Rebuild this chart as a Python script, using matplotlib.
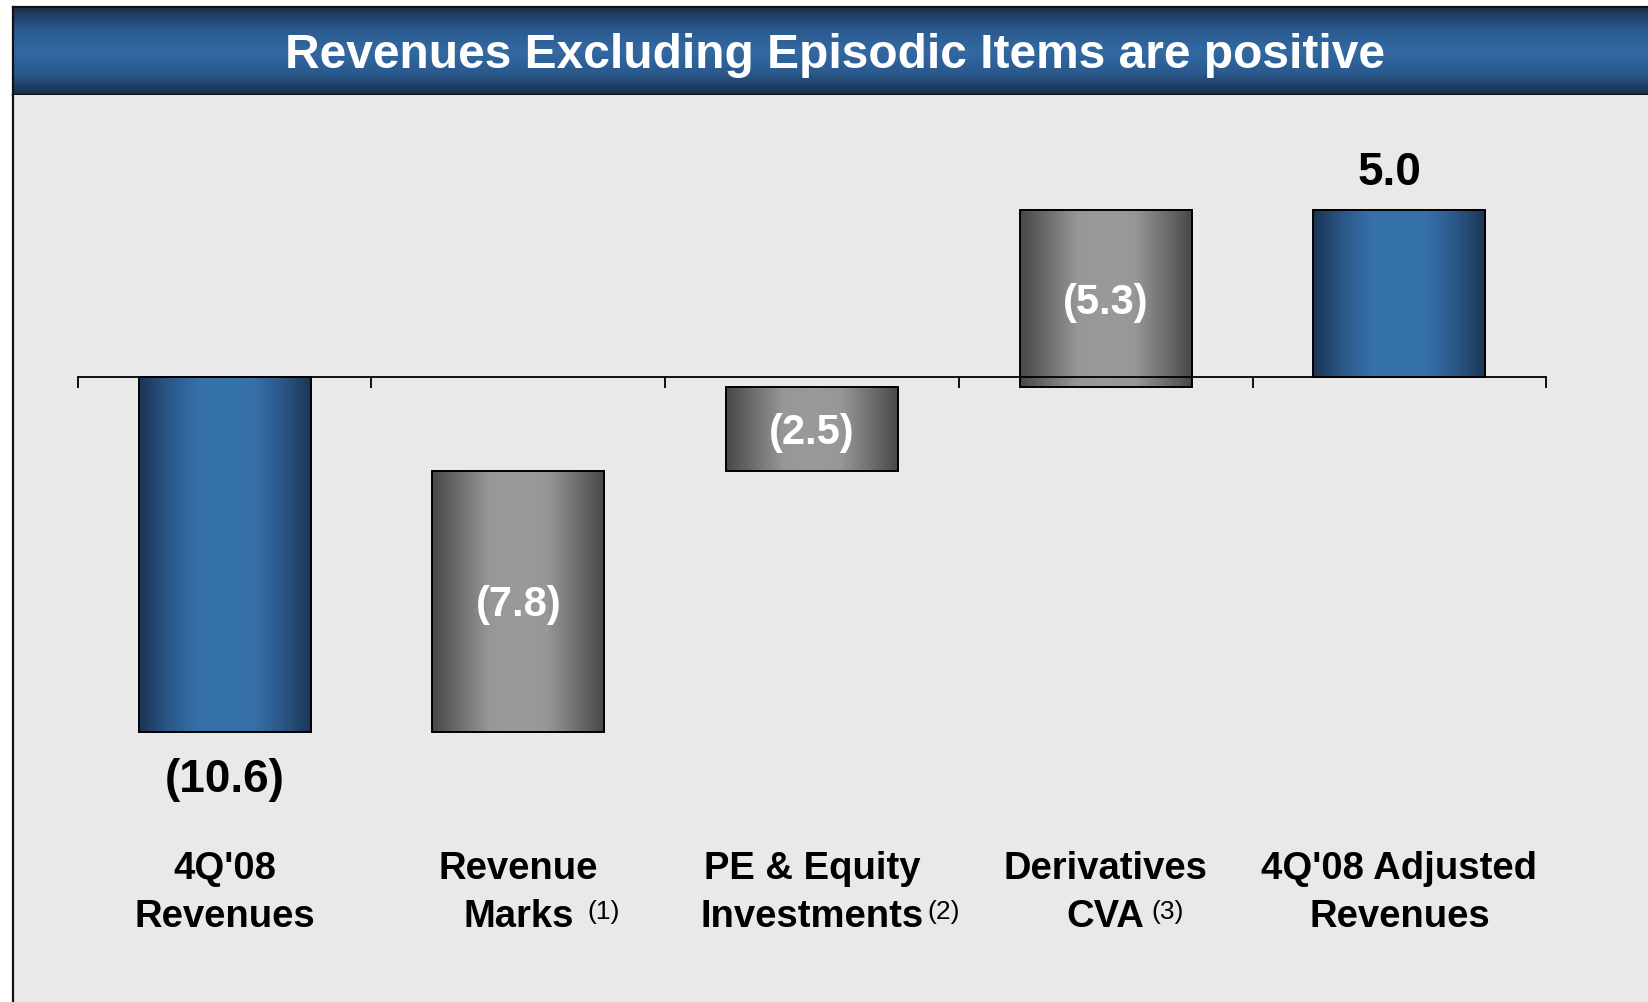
import numpy as np
import matplotlib
matplotlib.use("Agg")
import matplotlib.pyplot as plt
from matplotlib.colors import LinearSegmentedColormap

# ---------------- data ----------------
title = "Revenues Excluding Episodic Items are positive"
cat_line1 = ["4Q'08", "Revenue", "PE & Equity", "Derivatives", "4Q'08 Adjusted"]
cat_line2 = ["Revenues", "Marks", "Investments", "CVA", "Revenues"]
footnotes = ["", "(1)", "(2)", "(3)", ""]
reported_revenues = -10.6
episodic_items = [-7.8, -2.5, -5.3]
adjusted_revenues = 5.0

# ---------------- style ----------------
plt.rcParams['font.family'] = ['Liberation Sans', 'DejaVu Sans']
BG = '#E9E9E9'
W, H = 1648, 1002
fig = plt.figure(figsize=(W / 100, H / 100), dpi=100)
fig.patch.set_facecolor('white')

left_px, header_top, header_bot = 12.6, 7, 95
lf = left_px / W

# header band
hax = fig.add_axes([lf, 1 - header_bot / H, 1 - lf, (header_bot - header_top) / H])
hcm = LinearSegmentedColormap.from_list('hdr', ['#1A2F4C', '#2A5A8E', '#3369A2', '#2A5A8E', '#192D48'])
hax.imshow(np.linspace(0, 1, 200).reshape(-1, 1), cmap=hcm, aspect='auto',
           extent=[0, 1, 0, 1], origin='upper')
hax.set_xlim(0, 1); hax.set_ylim(0, 1)
hax.set_xticks([]); hax.set_yticks([])
for s in ['top', 'bottom', 'left']:
    hax.spines[s].set_linewidth(1.6)
    hax.spines[s].set_color('#111111')
hax.spines['right'].set_visible(False)
hax.text(0.503, 0.307, title, color='white', fontsize=34.5, fontweight='bold',
         ha='center', va='baseline', transform=hax.transAxes)

# chart area
ax = fig.add_axes([lf, 0, 1 - lf, 1 - header_bot / H])
ax.set_facecolor(BG)

n = len(cat_line1)
x = np.arange(n)
bar_w = 0.586

# waterfall geometry
bottoms, tops, kinds, labels_v = [], [], [], []
bottoms.append(0.0); tops.append(reported_revenues); kinds.append('total'); labels_v.append(reported_revenues)
running = reported_revenues
for v in episodic_items:
    new = running - v
    bottoms.append(running); tops.append(new); kinds.append('item'); labels_v.append(v)
    running = new
bottoms.append(0.0); tops.append(adjusted_revenues); kinds.append('total'); labels_v.append(adjusted_revenues)

blue_cm = LinearSegmentedColormap.from_list('b', ['#1B3454', '#2A5686', '#3570A9', '#3672AA', '#3570A9', '#2A5686', '#1B3454'])
gray_cm = LinearSegmentedColormap.from_list('g', ['#474747', '#707070', '#979797', '#9A9A9A', '#979797', '#707070', '#474747'])
grad = np.linspace(0, 1, 256).reshape(1, -1)

def fmt(v):
    return f"({abs(v):.1f})" if v < 0 else f"{v:.1f}"

for i in range(n):
    lo, hi = sorted([bottoms[i], tops[i]])
    cm = blue_cm if kinds[i] == 'total' else gray_cm
    ax.imshow(grad, cmap=cm, aspect='auto', extent=[x[i] - bar_w / 2, x[i] + bar_w / 2, lo, hi],
              zorder=1, interpolation='bilinear')
    ax.bar(x[i], hi - lo, bottom=lo, width=bar_w, facecolor='none', edgecolor='black',
           linewidth=1.4, zorder=2)
    if kinds[i] == 'item':
        ax.annotate(fmt(labels_v[i]), (x[i], (lo + hi) / 2), xytext=(0, -3), textcoords='offset points',
                    color='white', fontsize=30, fontweight='bold', ha='center', va='center', zorder=4)
    else:
        if labels_v[i] >= 0:
            ax.annotate(fmt(labels_v[i]), (x[i], hi), xytext=(-7, 18), textcoords='offset points',
                        ha='center', va='baseline', fontsize=33, fontweight='bold', color='black')
        else:
            ax.annotate(fmt(labels_v[i]), (x[i], lo), xytext=(0, -43.5), textcoords='offset points',
                        ha='center', va='baseline', fontsize=33, fontweight='bold', color='black')

# category labels
tr = ax.get_xaxis_transform()
gaps = [0, 10, 3, 5, 0]
for i in range(n):
    ax.text(x[i], 0.1356, cat_line1[i], transform=tr, ha='center', va='baseline',
            fontsize=27.5, fontweight='bold', color='black')
    t2 = ax.text(x[i], 0.0827, cat_line2[i], transform=tr, ha='center', va='baseline',
                 fontsize=27.5, fontweight='bold', color='black')
    if footnotes[i]:
        ax.annotate(footnotes[i], xy=(1, 1), xycoords=t2, xytext=(gaps[i], -1),
                    textcoords='offset points', ha='left', va='top', fontsize=19, color='black')

# axes
ax.set_xlim(-0.7218, 4.8464)
ax.set_ylim(-18.69, 8.447)
ax.spines['top'].set_visible(False)
ax.spines['right'].set_visible(False)
ax.spines['left'].set_linewidth(1.6)
ax.spines['left'].set_color('#111111')
ax.spines['bottom'].set_position(('data', 0))
ax.spines['bottom'].set_bounds(-0.5, n - 0.5)
ax.spines['bottom'].set_linewidth(1.3)
ax.spines['bottom'].set_zorder(3)
ax.set_xticks(np.arange(n + 1) - 0.5)
ax.set_xticklabels([])
ax.tick_params(axis='x', direction='out', length=8, width=1.3, color='black')
ax.set_yticks([])

fig.savefig('out.png', dpi=100, facecolor='white')
